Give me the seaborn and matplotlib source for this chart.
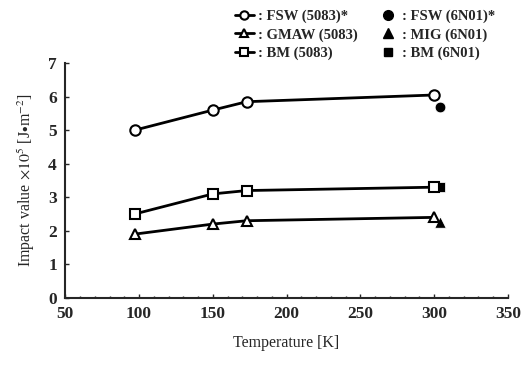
import matplotlib
matplotlib.use('Agg')
import matplotlib.pyplot as plt
from matplotlib.lines import Line2D
from matplotlib.ticker import MultipleLocator
import seaborn as sns

# 5083 alloy (open markers, joined)
temp_5083 = [97, 150, 173, 300]
fsw_5083 = [5.0, 5.6, 5.85, 6.05]
gmaw_5083 = [1.9, 2.2, 2.3, 2.4]
bm_5083 = [2.5, 3.1, 3.2, 3.3]

# 6N01 alloy (filled markers, room temperature only)
temp_6n01 = [304]
fsw_6n01 = [5.7]
mig_6n01 = [2.25]
bm_6n01 = [3.3]

x_ticks = [50, 100, 150, 200, 250, 300, 350]
y_ticks = [0, 1, 2, 3, 4, 5, 6, 7]

sns.set_style('ticks')
plt.rcParams['font.family'] = ['Liberation Serif', 'DejaVu Serif']
plt.rcParams['mathtext.fontset'] = 'stix'

fig = plt.figure(figsize=(5.22, 3.65), dpi=100)
ax = fig.add_axes([0.125, 0.184, 0.848, 0.643])

open_kw = dict(color='black', linewidth=2, markersize=7.5,
               markerfacecolor='white', markeredgecolor='black', markeredgewidth=1.5)
sns.lineplot(x=temp_5083, y=fsw_5083, marker='o', ax=ax, **open_kw)
sns.lineplot(x=temp_5083, y=gmaw_5083, marker='^', ax=ax, **open_kw)
sns.lineplot(x=temp_5083, y=bm_5083, marker='s', ax=ax, **open_kw)

sns.scatterplot(x=temp_6n01, y=fsw_6n01, marker='o', color='black', s=60, ax=ax)
sns.scatterplot(x=temp_6n01, y=mig_6n01, marker='^', color='black', s=70, ax=ax)
sns.scatterplot(x=temp_6n01, y=bm_6n01, marker='s', color='black', s=45, ax=ax)

ax.set_xlim(50, 350)
ax.set_ylim(0, 7)
ax.set_xticks(x_ticks)
ax.set_yticks(y_ticks)
ax.xaxis.set_minor_locator(MultipleLocator(10))
ax.tick_params(direction='in', length=3, width=1, labelsize=12.5, pad=6)
ax.tick_params(which='minor', direction='in', length=1.5, width=1)
for lbl in ax.get_xticklabels() + ax.get_yticklabels():
    lbl.set_fontweight('bold')
for s in ['left', 'bottom']:
    ax.spines[s].set_linewidth(1.5)
sns.despine(ax=ax)

ax.set_xlabel('Temperature [K]', fontsize=11.5, labelpad=9)
ax.set_ylabel('Impact value $\\times10^5$ [J$\\bullet$m$^{-2}$]', fontsize=11.5, labelpad=8)

handles = [
    Line2D([], [], marker='o', **{**open_kw, 'markersize': 6}),
    Line2D([], [], marker='^', **{**open_kw, 'markersize': 6}),
    Line2D([], [], marker='s', **{**open_kw, 'markersize': 6}),
    Line2D([], [], marker='o', color='black', linestyle='none', markersize=7),
    Line2D([], [], marker='^', color='black', linestyle='none', markersize=7),
    Line2D([], [], marker='s', color='black', linestyle='none', markersize=6),
]
labels = [': FSW (5083)*', ': GMAW (5083)', ': BM (5083)',
          ': FSW (6N01)*', ': MIG (6N01)', ': BM (6N01)']
fig.legend(handles, labels, ncol=2, loc='upper left', bbox_to_anchor=(0.425, 1.01),
           frameon=False, prop={'size': 10.5, 'weight': 'bold'}, handlelength=1.3,
           handletextpad=0.3, columnspacing=1.4, labelspacing=0.35)

fig.savefig('out.png', dpi=100)
